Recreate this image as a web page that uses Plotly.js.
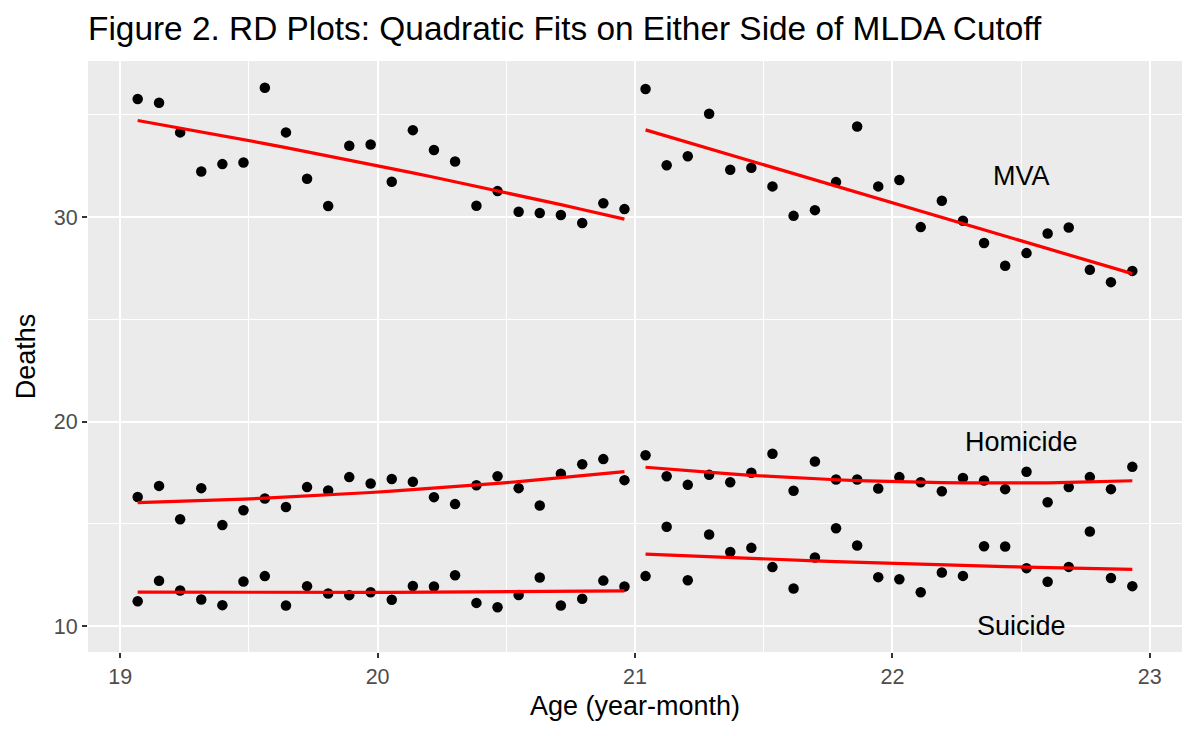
<!DOCTYPE html>
<html>
<head>
<meta charset="utf-8">
<script src="https://cdn.plot.ly/plotly-3.0.1.min.js"></script>
<style>
    html, body { margin: 0; padding: 0; background: #ffffff; }
    #chart { width: 1196px; height: 736px; }
</style>
</head>
<body>
<div id="chart"></div>
<script>
// Age cells (years), 24 monthly bins below and above the cutoff
let ageBelow = [19.068, 19.151, 19.233, 19.315, 19.397, 19.479, 19.562, 19.644,
                19.726, 19.808, 19.890, 19.973, 20.055, 20.137, 20.219, 20.301,
                20.384, 20.466, 20.548, 20.630, 20.712, 20.795, 20.877, 20.959];
let ageAbove = [21.041, 21.123, 21.205, 21.288, 21.370, 21.452, 21.534, 21.616,
                21.699, 21.781, 21.863, 21.945, 22.027, 22.110, 22.192, 22.274,
                22.356, 22.438, 22.521, 22.603, 22.685, 22.767, 22.849, 22.932];

// Death rates
let mvaBelow = [35.77, 35.59, 34.14, 32.23, 32.59, 32.67, 36.32, 34.14,
                31.87, 30.54, 33.49, 33.55, 31.73, 34.25, 33.28, 32.72,
                30.55, 31.27, 30.26, 30.20, 30.10, 29.71, 30.68, 30.39];
let mvaAbove = [36.26, 32.53, 32.97, 35.05, 32.31, 32.41, 31.50, 30.06,
                30.34, 31.71, 34.43, 31.50, 31.81, 29.51, 30.80, 29.82,
                28.73, 27.62, 28.24, 29.20, 29.49, 27.42, 26.82, 27.37];
let homicideBelow = [16.32, 16.86, 15.23, 16.75, 14.95, 15.67, 16.24, 15.83,
                     16.80, 16.64, 17.29, 16.98, 17.20, 17.06, 16.31, 15.97,
                     16.89, 17.33, 16.75, 15.90, 17.45, 17.92, 18.17, 17.14];
let homicideAbove = [18.36, 17.33, 16.91, 17.40, 17.04, 17.50, 18.43, 16.62,
                     18.05, 17.17, 17.17, 16.73, 17.29, 17.04, 16.60, 17.25,
                     17.12, 16.70, 17.55, 16.06, 16.80, 17.29, 16.70, 17.79];
let suicideBelow = [11.22, 12.22, 11.75, 11.31, 11.03, 12.19, 12.45, 11.01,
                    11.96, 11.60, 11.52, 11.66, 11.29, 11.97, 11.94, 12.49,
                    11.14, 10.93, 11.53, 12.38, 11.01, 11.34, 12.23, 11.94];
let suicideAbove = [12.45, 14.86, 12.25, 14.48, 13.63, 13.83, 12.89, 11.84,
                    13.36, 14.79, 13.95, 12.40, 12.30, 11.66, 12.63, 12.46,
                    13.91, 13.90, 12.84, 12.17, 12.90, 14.63, 12.36, 11.96];

// Text labels placed on the plot
let labelText = ["MVA", "Homicide", "Suicide"];
let labelX = [22.5, 22.5, 22.5];
let labelY = [32, 19, 10];

/**
 * Least squares quadratic fit, returns fitted values at x
 * @param x
 * @param y
 * @returns
 */
function quadraticFit(x, y) {
    let n = x.length;
    let mean = x.reduce((a, b) => a + b, 0) / n;
    // normal equations for y = a + b*t + c*t^2, t centred
    let s = [0, 0, 0, 0, 0];
    let r = [0, 0, 0];
    for (let i = 0; i < n; i++) {
        let t = x[i] - mean;
        for (let k = 0; k < 5; k++) s[k] += Math.pow(t, k);
        for (let k = 0; k < 3; k++) r[k] += y[i] * Math.pow(t, k);
    }
    let m = [[s[0], s[1], s[2], r[0]],
             [s[1], s[2], s[3], r[1]],
             [s[2], s[3], s[4], r[2]]];
    for (let i = 0; i < 3; i++) {
        for (let j = i + 1; j < 3; j++) {
            let f = m[j][i] / m[i][i];
            for (let k = i; k < 4; k++) m[j][k] -= f * m[i][k];
        }
    }
    let coef = [0, 0, 0];
    for (let i = 2; i >= 0; i--) {
        let v = m[i][3];
        for (let k = i + 1; k < 3; k++) v -= m[i][k] * coef[k];
        coef[i] = v / m[i][i];
    }
    return x.map(v => {
        let t = v - mean;
        return coef[0] + coef[1] * t + coef[2] * t * t;
    });
}

/**
 *
 * @param elementId
 * @returns
 */
function createRdPlot(elementId) {
    let groups = [
        [ageBelow, mvaBelow], [ageAbove, mvaAbove],
        [ageBelow, homicideBelow], [ageAbove, homicideAbove],
        [ageBelow, suicideBelow], [ageAbove, suicideAbove]
    ];

    let data = [];
    groups.forEach(g => {
        data.push({
            x: g[0],
            y: g[1],
            type: 'scatter',
            mode: 'markers',
            marker: { color: '#000000', size: 10.5 },
            showlegend: false,
            hoverinfo: 'skip'
        });
    });
    groups.forEach(g => {
        data.push({
            x: g[0],
            y: quadraticFit(g[0], g[1]),
            type: 'scatter',
            mode: 'lines',
            line: { color: '#FF0000', width: 3.2 },
            showlegend: false,
            hoverinfo: 'skip'
        });
    });

    let annotations = labelText.map((t, i) => ({
        x: labelX[i],
        y: labelY[i],
        xref: 'x',
        yref: 'y',
        text: t,
        showarrow: false,
        font: { size: 27, color: '#000000' }
    }));

    // Layout of the chart
    let layout = {
        width: 1196,
        height: 736,
        font: { family: 'Liberation Sans, Arial, sans-serif', color: '#000000' },
        paper_bgcolor: '#ffffff',
        plot_bgcolor: '#EBEBEB',
        title: {
            text: 'Figure 2. RD Plots: Quadratic Fits on Either Side of MLDA Cutoff',
            font: { size: 33.4, color: '#000000' },
            x: 88 / 1196,
            xref: 'container',
            xanchor: 'left',
            y: 1 - 28 / 736,
            yref: 'container',
            yanchor: 'middle'
        },
        xaxis: {
            range: [18.875, 23.125],
            tickvals: [19, 20, 21, 22, 23],
            ticks: 'outside',
            ticklen: 5,
            tickwidth: 2,
            tickcolor: '#333333',
            tickfont: { size: 21.5, color: '#4D4D4D' },
            showgrid: true,
            gridcolor: '#ffffff',
            gridwidth: 2,
            minor: { tickvals: [19.5, 20.5, 21.5, 22.5], showgrid: true, gridcolor: '#ffffff', gridwidth: 1, ticks: '' },
            zeroline: false,
            showline: false,
            fixedrange: true,
            title: { text: 'Age (year-month)', font: { size: 27 }, standoff: 8 }
        },
        yaxis: {
            range: [8.74, 37.63],
            tickvals: [10, 20, 30],
            ticks: 'outside',
            ticklen: 5,
            tickwidth: 2,
            tickcolor: '#333333',
            tickfont: { size: 21.5, color: '#4D4D4D' },
            showgrid: true,
            gridcolor: '#ffffff',
            gridwidth: 2,
            minor: { tickvals: [15, 25, 35], showgrid: true, gridcolor: '#ffffff', gridwidth: 1, ticks: '' },
            zeroline: false,
            showline: false,
            fixedrange: true,
            title: { text: 'Deaths', font: { size: 27 }, standoff: 10 }
        },
        annotations: annotations,
        margin: { l: 88, r: 14, t: 61, b: 84 },
        hovermode: false
    };

    // General chart configuration
    let config = {
        displayModeBar: false,
        staticPlot: true
    };

    let htmlElement = document.getElementById(elementId);
    Plotly.newPlot(htmlElement, data, layout, config);
}

createRdPlot('chart');
</script>
</body>
</html>
